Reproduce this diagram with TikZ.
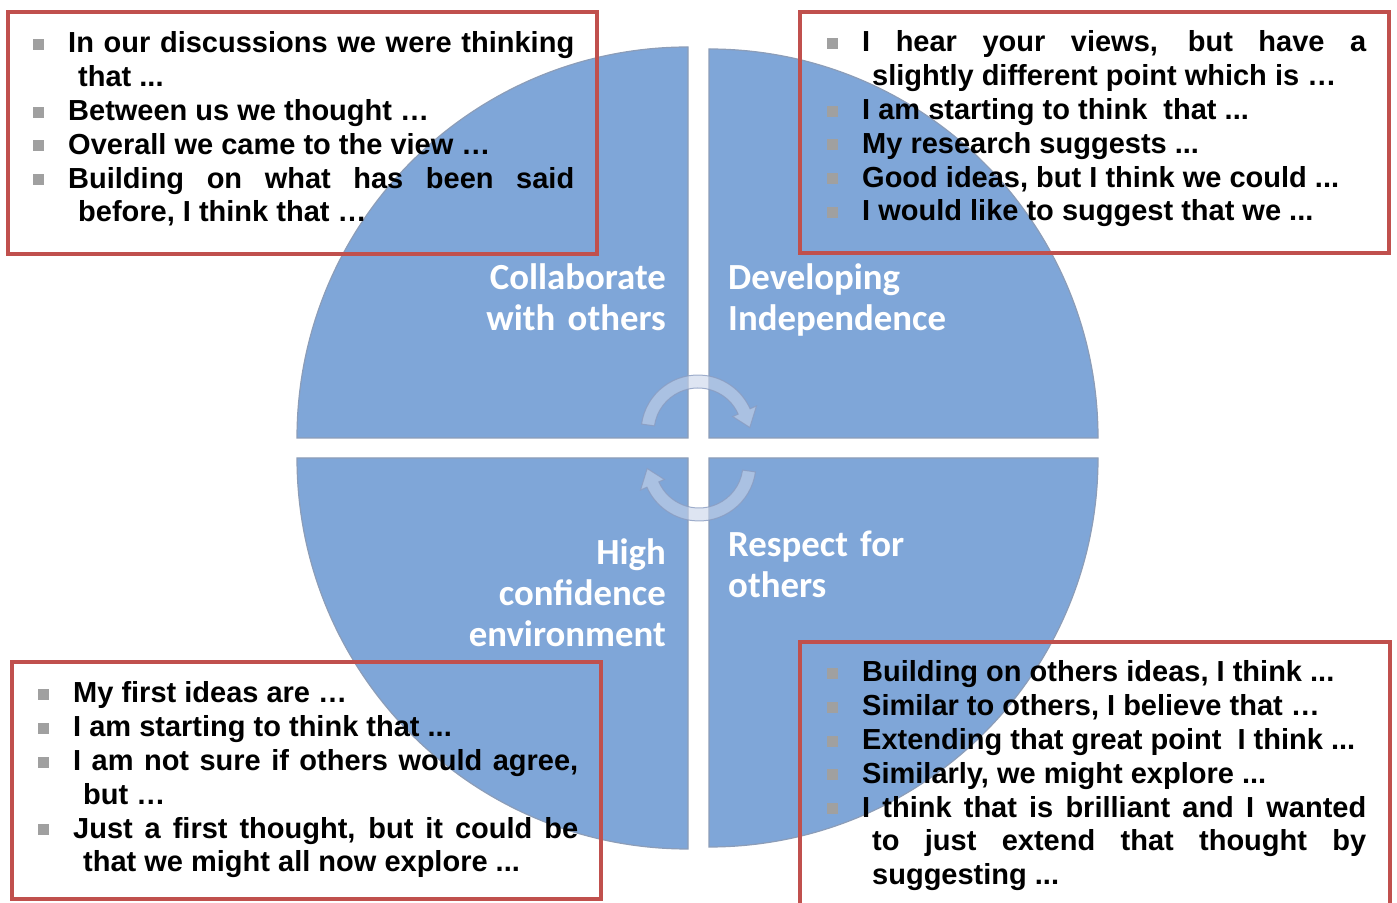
\documentclass[tikz,border=0pt]{standalone}
\usepackage{fontspec}
\setmainfont{Liberation Sans}
\newfontfamily\labelfont{Carlito}
\usepackage{xcolor}
\definecolor{quadblue}{HTML}{7FA6D8}
\definecolor{quadedge}{HTML}{8C9DB8}
\definecolor{boxred}{HTML}{C0504D}
\definecolor{bulletgray}{HTML}{A0A0A0}
\definecolor{arrowfill}{HTML}{C8D4EA}
\definecolor{arrowedge}{HTML}{8A9CC0}
\hyphenpenalty=10000
\exhyphenpenalty=10000

\newcommand{\bsq}{\textcolor{bulletgray}{\rule[3pt]{11pt}{11pt}}}
\newcommand{\bitem}[1]{\noindent\hangindent=10pt\hangafter=1\llap{\bsq\hspace{24pt}}#1\par}

\tikzset{
  saybox/.style={draw=boxred, line width=4pt},
  saytext/.style={anchor=base west, inner sep=0pt, align=justify,
    font=\fontsize{29}{33.8}\selectfont\bfseries},
  quadrant/.style={fill=quadblue, draw=quadedge, line width=1.2pt},
  quadlabel/.style={inner sep=0pt, text=white, text width=320pt,
    font=\labelfont\fontsize{36.8}{40.7}\selectfont\bfseries},
  cyclearrow/.style={fill=arrowfill, fill opacity=0.6, draw=arrowedge,
    draw opacity=0.8, line width=1pt}
}

\begin{document}
\begin{tikzpicture}[x=1pt, y=1pt]
    \clip (0,0) rectangle (1397,902);

    % Quarter discs
    \draw[quadrant] (688,464) -- (297,464) arc (180:90:391) -- cycle;
    \draw[quadrant] (709,464) -- (709,853) arc (90:0:389) -- cycle;
    \draw[quadrant] (688,444) -- (297,444) arc (180:270:391) -- cycle;
    \draw[quadrant] (709,444) -- (1098,444) arc (0:-90:389) -- cycle;

    % Cycle arrows round the centre
    \coordinate (O) at (698.5,454);
    \foreach \r in {0,180} {
      \begin{scope}[rotate around={\r:(O)}]
        \filldraw[cyclearrow, shift={(698,470)}]
          (172:57) arc[start angle=172, end angle=24, radius=57]
          -- (24:64) -- (5:52) -- (24:38) -- (24:44)
          arc[start angle=24, end angle=172, radius=44] -- cycle;
      \end{scope}
    }

    % Quadrant labels
    \node[quadlabel, anchor=base east, align=right] (collab) at (666,612)
      {Collaborate\\with others};
    \node[quadlabel, anchor=base west, align=left] (indep) at (728,612)
      {Developing\\Independence};
    \node[quadlabel, anchor=base east, align=right] (confid) at (666,337)
      {High\\confidence\\environment};
    \node[quadlabel, anchor=base west, align=left] (respect) at (728,345)
      {Respect for\\others};

    % Sentence starter boxes
    \draw[saybox] (8,648) rectangle (597,890);
    \draw[saybox] (800,649) rectangle (1389,890);
    \draw[saybox] (12,3) rectangle (601,240);
    \draw[saybox] (800,-20) rectangle (1390,260);

    \node[saytext, text width=506pt] (collabtext) at (68,849) {%
      \bitem{In our discussions we were thinking\linebreak that ...}
      \bitem{Between us we thought …}
      \bitem{Overall we came to the view …}
      \bitem{Building on what has been said\linebreak before, I think that …}};
    \node[saytext, text width=504pt] (indeptext) at (862,850) {%
      \bitem{I hear your views, but have a\linebreak slightly different point which is …}
      \bitem{I am starting to think~ that ...}
      \bitem{My research suggests ...}
      \bitem{Good ideas, but I think we could ...}
      \bitem{I would like to suggest that we ...}};
    \node[saytext, text width=505pt] (confidtext) at (73,199) {%
      \bitem{My first ideas are …}
      \bitem{I am starting to think that ...}
      \bitem{I am not sure if others would agree,\linebreak but …}
      \bitem{Just a first thought, but it could be\linebreak that we might all now explore ...}};
    \node[saytext, text width=504pt] (respecttext) at (862,220) {%
      \bitem{Building on others ideas, I think ...}
      \bitem{Similar to others, I believe that …}
      \bitem{Extending that great point~ I think ...}
      \bitem{Similarly, we might explore ...}
      \bitem{I think that is brilliant and I wanted\linebreak to just extend that thought by\linebreak suggesting ...}};
\end{tikzpicture}
\end{document}
